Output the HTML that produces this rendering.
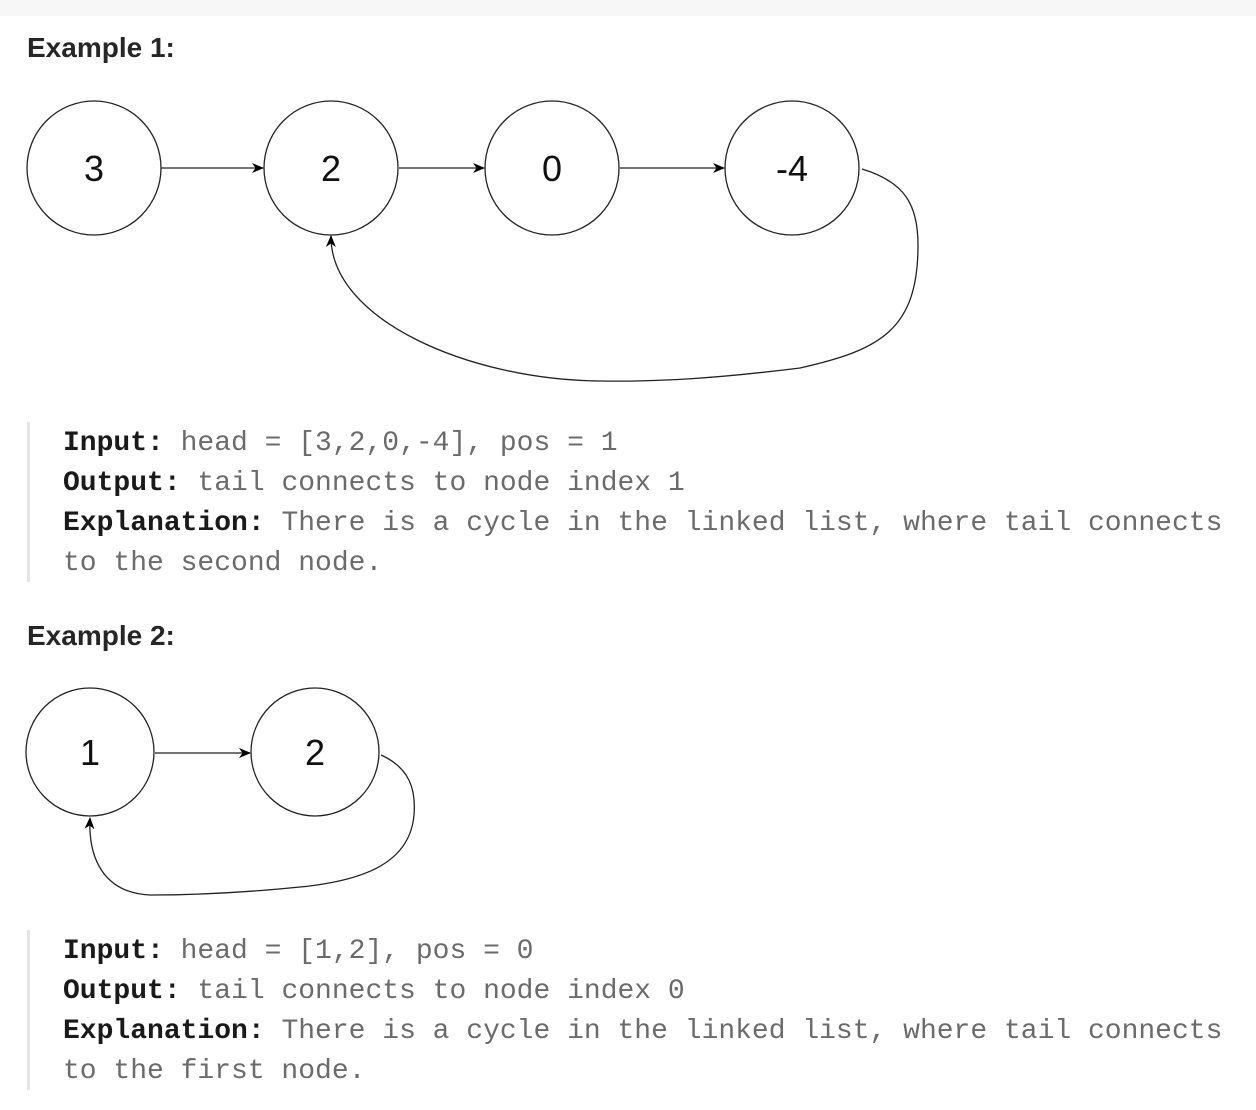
<!DOCTYPE html>
<html><head><meta charset="utf-8"><style>
html,body{margin:0;padding:0;background:#fff;}
svg{display:block}
</style></head><body>
<svg width="1256" height="1110" xmlns="http://www.w3.org/2000/svg">
<defs><marker id="a" markerWidth="12" markerHeight="12" refX="11" refY="6" orient="auto" markerUnits="userSpaceOnUse"><path d="M0,1 L12,6 L0,11 L3.5,6 Z" fill="#000"/></marker></defs>
<rect x="0" y="0" width="1256" height="16" fill="#f7f7f8"/>
<g font-family="Liberation Sans, sans-serif" font-weight="bold" font-size="28" fill="#262626">
<text x="27" y="57">Example 1:</text>
<text x="27" y="645">Example 2:</text>
</g>
<g fill="#fff" stroke="#222" stroke-width="1.3">
<circle cx="94" cy="168" r="67"/><circle cx="331" cy="168" r="67"/><circle cx="552" cy="168" r="67"/><circle cx="792" cy="168" r="67"/>
<circle cx="90" cy="752" r="64"/><circle cx="315" cy="752" r="64"/>
</g>
<g stroke="#222" stroke-width="1.3" fill="none" marker-end="url(#a)">
<line x1="161" y1="168" x2="263" y2="168"/>
<line x1="399" y1="168" x2="484" y2="168"/>
<line x1="620" y1="168" x2="724" y2="168"/>
<path d="M862,169 C905,182 918,205 918,245 C918,330 880,350 800,368 C720,378 660,382 600,381 C470,380 330,320 331,236"/>
<line x1="155" y1="753" x2="250" y2="753"/>
<path d="M381,755 C410,768 416,790 414,815 C410,860 370,880 300,887 C240,893 190,895 150,895 C105,893 88,860 90,818"/>
</g>
<g font-family="Liberation Sans, sans-serif" font-size="36" fill="#111" text-anchor="middle">
<text x="94" y="181">3</text><text x="331" y="181">2</text><text x="552" y="181">0</text><text x="792" y="181">-4</text>
<text x="90" y="765">1</text><text x="315" y="765">2</text>
</g>
<rect x="27" y="422" width="3" height="160" fill="#e5e5e5"/>
<rect x="27" y="930" width="3" height="160" fill="#e5e5e5"/>
<g font-family="Liberation Mono, monospace" font-size="28" fill="#6b6b6b" xml:space="preserve">
<text x="63" y="450"><tspan fill="#1a1a1a" font-weight="bold">Input:</tspan> head = [3,2,0,-4], pos = 1</text>
<text x="63" y="490"><tspan fill="#1a1a1a" font-weight="bold">Output:</tspan> tail connects to node index 1</text>
<text x="63" y="530"><tspan fill="#1a1a1a" font-weight="bold">Explanation:</tspan> There is a cycle in the linked list, where tail connects</text>
<text x="63" y="570">to the second node.</text>
<text x="63" y="958"><tspan fill="#1a1a1a" font-weight="bold">Input:</tspan> head = [1,2], pos = 0</text>
<text x="63" y="998"><tspan fill="#1a1a1a" font-weight="bold">Output:</tspan> tail connects to node index 0</text>
<text x="63" y="1038"><tspan fill="#1a1a1a" font-weight="bold">Explanation:</tspan> There is a cycle in the linked list, where tail connects</text>
<text x="63" y="1078">to the first node.</text>
</g>
</svg>
</body></html>
